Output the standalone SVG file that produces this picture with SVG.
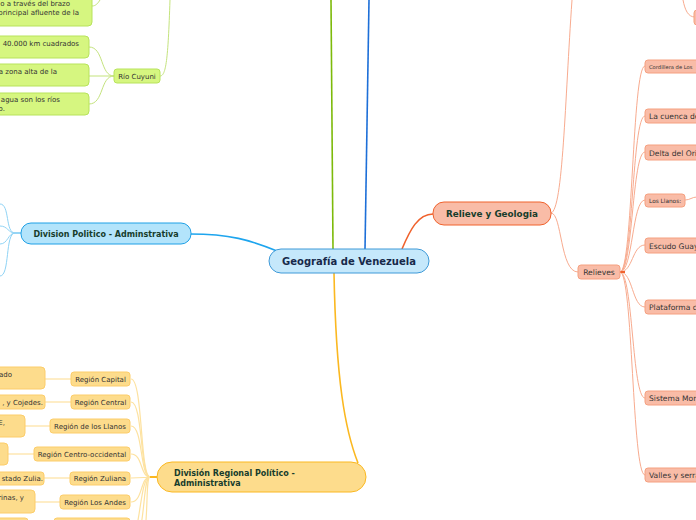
<svg xmlns="http://www.w3.org/2000/svg" width="696" height="520" viewBox="0 0 696 520">
<style>
text{font-family:"DejaVu Sans",Verdana,sans-serif;fill:#333}
.t{font-weight:bold;fill:#173d2c}
.g{fill:#d6f680;stroke:#b8e35c;stroke-width:1}
.y{fill:#fddc8c;stroke:#fccd6a;stroke-width:1}
.r{fill:#f9bca7;stroke:#f5a080;stroke-width:1}
.cg{fill:none;stroke:#c4e37d;stroke-width:1}
.cy{fill:none;stroke:#fde2a0;stroke-width:1.2}
.cr{fill:none;stroke:#f8ab8f;stroke-width:1}
.cb{fill:none;stroke:#8fd3f5;stroke-width:1}
.s7{font-size:7px}
</style>
<g id="connectors">
<path d="M333,249 L331,0" fill="none" stroke="#7dba0a" stroke-width="1.6"/>
<path d="M365,249 C366,150 368,60 369,0" fill="none" stroke="#1d6fd8" stroke-width="1.6"/>
<path d="M334,273 C336,380 345,430 358,463" fill="none" stroke="#fbb820" stroke-width="1.6"/>
<path d="M190,234 C230,234 250,240 277,251" fill="none" stroke="#1ea5ee" stroke-width="1.6"/>
<path d="M402,249 C410,230 418,214 433,214" fill="none" stroke="#f0622d" stroke-width="1.6"/>
<path class="cb" d="M21,233 L15,233 C5,233 10,204 0,204"/>
<path class="cb" d="M21,233 L15,233 C8,233 8,226 0,226"/>
<path class="cb" d="M21,233 L15,233 C8,233 8,244 0,244"/>
<path class="cb" d="M21,233 L15,233 C5,233 10,276 0,276"/>
<path class="cg" d="M160,76 C166,76 168,60 170,0"/>
<path class="cg" d="M92,6 C96,6 98,3 100,0"/>
<path class="cg" d="M114,76 C100,76 104,47 89,47"/>
<path class="cg" d="M114,76 L89,76" stroke-width="1.6"/>
<path class="cg" d="M114,76 C100,76 104,104 89,104"/>
<path class="cr" d="M551,213 C563,210 565,100 572,0"/>
<path class="cr" d="M551,213 C562,213 560,272 578,272"/>
<path class="cr" d="M683,0 C685,10 688,17 695,17"/>
<path class="cr" d="M620,272 C633,272 632,66 645,66"/>
<path class="cr" d="M620,272 C633,272 632,116 645,116"/>
<path class="cr" d="M620,272 C633,272 632,152 645,152"/>
<path class="cr" d="M620,272 C633,272 632,200 645,200"/>
<path class="cr" d="M620,272 C633,272 632,245 645,245"/>
<path class="cr" d="M620,272 C633,272 632,307 645,307"/>
<path class="cr" d="M620,272 C633,272 632,398 645,398"/>
<path class="cr" d="M620,272 C633,272 632,475 645,475"/>
<path d="M620,272 L625,272" stroke="#f0622d" stroke-width="2"/>
<path class="cr" d="M685,200 C690,200 692,197 697,197"/>
<path class="cy" d="M157,477 L150,477 C140,477 143,379 131,379"/>
<path class="cy" d="M157,477 L150,477 C140,477 143,402 131,402"/>
<path class="cy" d="M157,477 L150,477 C140,477 143,426 131,426"/>
<path class="cy" d="M157,477 L150,477 C140,477 143,454 131,454"/>
<path class="cy" d="M157,477 L131,478"/>
<path class="cy" d="M157,477 L150,477 C140,477 143,502 131,502"/>
<path class="cy" d="M157,477 L150,477 C142,477 141,510 136,530"/>
<path class="cy" d="M157,477 L150,477 C144,477 145,510 140,530"/>
<path class="cy" d="M157,477 L150,477 C146,477 148,510 145,530"/>
<path d="M150,477 L157,477" stroke="#fbb820" stroke-width="2"/>
<path class="cy" d="M45,379 L71,379"/>
<path class="cy" d="M45,402 L71,402"/>
<path class="cy" d="M25,426 L50,426"/>
<path class="cy" d="M8,454 L34,454"/>
<path class="cy" d="M44,478 L70,478"/>
<path class="cy" d="M35,502 L60,502"/>
</g>
<g id="center"><rect x="269" y="249" width="160" height="24" rx="12" fill="#c5e8fb" stroke="#3f9ad8"/><text x="349" y="264.5" text-anchor="middle" font-size="10" font-weight="bold" style="fill:#17294a">Geografía de Venezuela</text></g>
<g id="divpol"><rect x="21" y="223" width="170" height="21" rx="10" fill="#b3e4fb" stroke="#1ea0e6"/><text class="t" x="106" y="236.5" text-anchor="middle" font-size="8">Division Politico - Adminstrativa</text></g>
<g id="relieve"><rect x="433" y="202" width="118" height="23" rx="11" fill="#f9bca7" stroke="#f0622d"/><text class="t" x="492" y="216.5" text-anchor="middle" font-size="8.8">Relieve y Geologia</text></g>
<g id="regional"><rect x="157" y="462" width="209" height="30" rx="15" fill="#fddc8c" stroke="#fbb820"/><text class="t" x="174" y="476" font-size="8">División Regional Político -</text><text class="t" x="174" y="486" font-size="8">Administrativa</text></g>
<g id="g1"><rect class="g" x="-10" y="-10" width="102" height="36" rx="4"/><text class="s7" x="70" y="5.5" text-anchor="end">o a través del brazo</text><text class="s7" x="79" y="14.5" text-anchor="end">principal afluente de la</text></g>
<g id="g2"><rect class="g" x="-10" y="36" width="99" height="22" rx="4"/><text class="s7" x="79" y="45.5" text-anchor="end">40.000 km cuadrados</text></g>
<g id="g3"><rect class="g" x="-10" y="64" width="99" height="22" rx="4"/><text class="s7" x="57" y="73.5" text-anchor="end">a zona alta de la</text></g>
<g id="g4"><rect class="g" x="-10" y="93" width="99" height="22" rx="4"/><text class="s7" x="60" y="101.5" text-anchor="end">agua son los ríos</text><text class="s7" x="5" y="110.5" text-anchor="end">o.</text></g>
<g id="cuyuni"><rect class="g" x="114" y="69" width="46" height="14" rx="3"/><text class="s7" x="137" y="78.5" text-anchor="middle">Río Cuyuni</text></g>
<g id="relieves"><rect class="r" x="578" y="265" width="42" height="14" rx="3"/><text x="599" y="275" text-anchor="middle" font-size="7.6">Relieves</text></g>
<g id="cordillera"><rect class="r" x="645" y="60" width="60" height="13" rx="3"/><text x="649" y="68.5" font-size="5.2">Cordillera de Los</text></g>
<g id="cuenca"><rect class="r" x="645" y="109" width="60" height="14" rx="3"/><text x="649" y="119" font-size="7.6">La cuenca de</text></g>
<g id="delta"><rect class="r" x="645" y="145" width="60" height="15" rx="3"/><text x="649" y="155.5" font-size="7.6">Delta del Orin</text></g>
<g id="llanos"><rect class="r" x="645" y="194" width="40" height="13" rx="3"/><text x="649" y="202.5" font-size="5.8">Los Llanos:</text></g>
<g id="escudo"><rect class="r" x="645" y="238" width="60" height="15" rx="3"/><text x="649" y="248.5" font-size="7.6">Escudo Guaya</text></g>
<g id="plataforma"><rect class="r" x="645" y="300" width="60" height="14" rx="3"/><text x="649" y="310" font-size="7.6">Plataforma co</text></g>
<g id="sistema"><rect class="r" x="645" y="391" width="60" height="14" rx="3"/><text x="649" y="401" font-size="7.6">Sistema Mont</text></g>
<g id="valles"><rect class="r" x="645" y="468" width="60" height="14" rx="3"/><text x="649" y="478" font-size="7.6">Valles y serra</text></g>
<g id="topright"><rect class="r" x="694" y="10" width="20" height="15" rx="3"/></g>
<g id="capital"><rect class="y" x="71" y="372" width="59" height="14" rx="3"/><text class="s7" x="100.5" y="381.5" text-anchor="middle">Región Capital</text></g>
<g id="central"><rect class="y" x="71" y="395" width="59" height="14" rx="3"/><text class="s7" x="100.5" y="404.5" text-anchor="middle">Región Central</text></g>
<g id="llanosr"><rect class="y" x="50" y="419" width="80" height="14" rx="3"/><text class="s7" x="90" y="428.5" text-anchor="middle">Región de los Llanos</text></g>
<g id="centroocc"><rect class="y" x="34" y="447" width="96" height="14" rx="3"/><text class="s7" x="82" y="456.5" text-anchor="middle">Región Centro-occidental</text></g>
<g id="zuliana"><rect class="y" x="70" y="472" width="60" height="13" rx="3"/><text class="s7" x="100" y="481" text-anchor="middle">Región Zuliana</text></g>
<g id="andes"><rect class="y" x="60" y="495" width="70" height="14" rx="3"/><text class="s7" x="95" y="504.5" text-anchor="middle">Región Los Andes</text></g>
<g id="regbottom"><rect class="y" x="54" y="518" width="76" height="14" rx="3"/></g>
<g id="capitalL"><rect class="y" x="-10" y="367" width="55" height="22" rx="4"/><text class="s7" x="12" y="376.5" text-anchor="end">ado</text></g>
<g id="centralL"><rect class="y" x="-10" y="395" width="55" height="14" rx="3"/><text class="s7" x="43" y="404.5" text-anchor="end">, y Cojedes.</text></g>
<g id="llanosL"><rect class="y" x="-10" y="415" width="35" height="22" rx="4"/><text class="s7" x="5" y="424.5" text-anchor="end">E,</text></g>
<g id="centroL"><rect class="y" x="-10" y="443" width="18" height="22" rx="4"/></g>
<g id="zulianaL"><rect class="y" x="-10" y="472" width="54" height="13" rx="3"/><text class="s7" x="43" y="481" text-anchor="end">stado Zulia.</text></g>
<g id="andesL"><rect class="y" x="-10" y="490" width="45" height="23" rx="4"/><text class="s7" x="24" y="499.5" text-anchor="end">rinas, y</text></g>
<g id="bottomL"><rect class="y" x="-10" y="518" width="38" height="14" rx="3"/></g>
</svg>
